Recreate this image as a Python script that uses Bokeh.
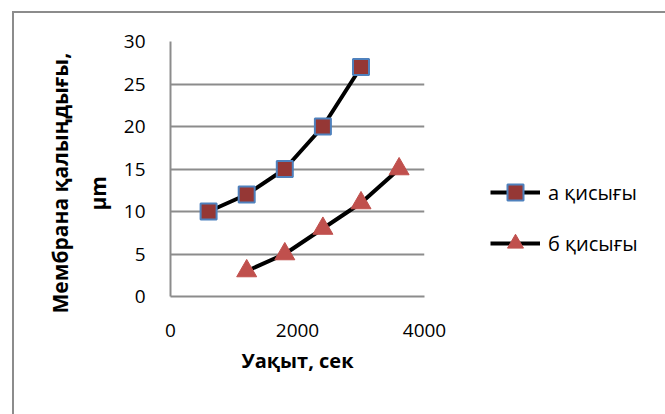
from bokeh.plotting import figure
from bokeh.layouts import row
from bokeh.models import Legend, LegendItem, Title, FixedTicker, Range1d
from bokeh.embed import file_html
from bokeh.resources import INLINE

# data
a_x = [600, 1200, 1800, 2400, 3000]
a_y = [10, 12, 15, 20, 27]
b_x = [1200, 1800, 2400, 3000, 3600]
b_y = [3, 5, 8, 11, 15]
a_name = "а қисығы"
b_name = "б қисығы"
x_title = "Уақыт, сек"
y_title_1 = "Мембрана қалыңдығы,"
y_title_2 = "μm"
x_ticks = [0, 2000, 4000]
y_ticks = [0, 5, 10, 15, 20, 25, 30]

FONT = "Open Sans"
GRAY = "#8c8c8c"
A_FILL, A_LINE = "#953735", "#4f81bd"
B_FILL = "#c0504d"

p = figure(width=460, height=401, output_backend="svg", toolbar_location=None,
           x_range=Range1d(0, 4000), y_range=Range1d(0, 30),
           min_border_left=156, min_border_right=50, min_border_top=28, min_border_bottom=118)
p.outline_line_color = None
p.background_fill_color = "white"
p.border_fill_color = "white"

p.xgrid.grid_line_color = None
p.ygrid.grid_line_color = GRAY
p.ygrid.grid_line_width = 2

p.xaxis.ticker = FixedTicker(ticks=x_ticks)
p.yaxis.ticker = FixedTicker(ticks=y_ticks)
for ax in (p.xaxis[0], p.yaxis[0]):
    ax.axis_line_color = GRAY
    ax.axis_line_width = 2
    ax.major_tick_line_color = None
    ax.minor_tick_line_color = None
    ax.major_label_text_font = FONT
    ax.major_label_text_font_size = "19px"
    ax.major_label_text_color = "black"
p.xaxis.major_label_standoff = 21
p.yaxis.major_label_standoff = 19
p.xaxis.axis_label = x_title
p.xaxis.axis_label_text_font = FONT
p.xaxis.axis_label_text_font_style = "bold"
p.xaxis.axis_label_text_font_size = "20px"
p.xaxis.axis_label_text_color = "black"
p.xaxis.axis_label_standoff = 7

p.line(a_x, a_y, line_color="black", line_width=4)
p.scatter(a_x, a_y, marker="square", size=16, fill_color=A_FILL,
          line_color=A_LINE, line_width=2)
p.line(b_x, b_y, line_color="black", line_width=4)
p.scatter(b_x, b_y, marker="triangle", size=20, fill_color=B_FILL,
          line_color=B_FILL, line_width=1)

t2 = Title(text=y_title_2, align="left", offset=86, standoff=17, text_color="black",
           text_font=FONT, text_font_style="bold", text_font_size="21px")
t1 = Title(text=y_title_1, align="left", offset=-17, standoff=0, text_color="black",
           text_font=FONT, text_font_style="bold", text_font_size="21px")
p.add_layout(t2, "left")
p.add_layout(t1, "left")

# legend panel (its renderers reuse the series, which fall outside this panel's range)
q = figure(width=191, height=401, output_backend="svg", toolbar_location=None,
           x_range=Range1d(0, 1), y_range=Range1d(0, 1),
           x_axis_type=None, y_axis_type=None, min_border=0)
q.outline_line_color = None
q.xgrid.grid_line_color = None
q.ygrid.grid_line_color = None
q.background_fill_color = "white"
q.border_fill_color = "white"
la = q.line(a_x, a_y, line_color="black", line_width=4)
sa = q.scatter(a_x, a_y, marker="square", size=16, fill_color=A_FILL,
               line_color=A_LINE, line_width=2)
lb = q.line(b_x, b_y, line_color="black", line_width=4)
sb = q.scatter(b_x, b_y, marker="triangle", size=18, fill_color=B_FILL,
               line_color=B_FILL, line_width=1)
legend = Legend(items=[LegendItem(label=a_name, renderers=[la, sa]),
                       LegendItem(label=b_name, renderers=[lb, sb])],
                location=(16, 33), padding=0, margin=0, spacing=11,
                glyph_width=50, glyph_height=40, label_height=40, label_standoff=8,
                border_line_color=None, background_fill_alpha=0,
                label_text_font=FONT, label_text_font_size="20px",
                label_text_color="black")
q.add_layout(legend, "center")

layout = row(p, q, styles={"margin-left": "12px", "margin-top": "11px",
                           "border-left": "2px solid #8c8c8c",
                           "border-top": "2px solid #8c8c8c"})

open("out.html", "w").write(file_html(layout, INLINE))
